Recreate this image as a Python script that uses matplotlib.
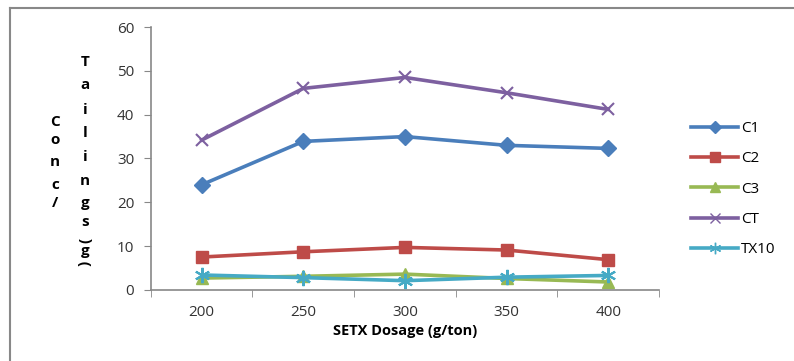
import numpy as np
import matplotlib.pyplot as plt
from matplotlib.lines import Line2D

# SETX dosage (g/ton) and tailings concentration for each stream
dosage = ['200', '250', '300', '350', '400']
c1 = [24.0, 33.9, 35.0, 33.0, 32.3]
c2 = [7.5, 8.7, 9.7, 9.1, 6.9]
c3 = [2.7, 3.1, 3.6, 2.6, 1.8]
ct = [34.2, 46.0, 48.5, 45.0, 41.2]
tx10 = [3.4, 2.8, 2.1, 2.9, 3.3]

series = [
    ('C1', c1, '#4A7EBB', 'D', 8),
    ('C2', c2, '#BE4B48', 's', 9),
    ('C3', c3, '#98B954', '^', 9),
    ('CT', ct, '#7D60A0', 'x', 9),
    ('TX10', tx10, '#46AAC5', (6, 2, 0), 11),
]

plt.rcParams['font.family'] = ['Open Sans', 'DejaVu Sans']

fig = plt.figure(figsize=(7.94, 3.61), dpi=100)
ax = fig.add_axes([0.190, 0.197, 0.640, 0.728])

x = np.arange(len(dosage))
for name, vals, col, mk, ms in series:
    ax.plot(x, vals, color=col, lw=2.6, marker=mk, markersize=ms,
            markeredgewidth=1.5 if mk in ('x', (6, 2, 0)) else 1,
            label=name)

ax.set_xlim(-0.5, len(dosage) - 0.5)
ax.set_ylim(0, 60)
ax.set_yticks(np.arange(0, 61, 10))
ax.set_xticks(x)
ax.set_xticklabels(dosage)
ax.set_xticks(np.arange(-0.5, len(dosage)), minor=True)
ax.tick_params(axis='x', which='major', length=0, pad=11)
ax.tick_params(axis='x', which='minor', length=5, color='#888888', direction='out')
ax.tick_params(axis='y', length=5, color='#888888', direction='out', pad=7)
ax.tick_params(labelsize=11, labelcolor='#333333')

for s in ('top', 'right'):
    ax.spines[s].set_visible(False)
for s in ('left', 'bottom'):
    ax.spines[s].set_color('#888888')
    ax.spines[s].set_linewidth(1.2)

ax.set_xlabel('SETX Dosage (g/ton)', fontsize=10.5, fontweight='bold', labelpad=3)

# stacked vertical y-axis title
col1 = [('C', 122), ('o', 140), ('n', 162), ('c', 185), ('/', 203)]
col2 = [('T', 62), ('a', 85), ('i', 110), ('l', 133), ('i', 157),
        ('n', 181), ('g', 203), ('s', 222), ('(', 240), ('g', 251), (')', 263)]
W, H = 794, 361
for ch, yy in col1:
    fig.text(55 / W, 1 - yy / H, ch, ha='center', va='center',
             fontsize=11, fontweight='bold')
for ch, yy in col2:
    rot = 90 if ch in '()' else 0
    fig.text(85 / W, 1 - yy / H, ch, ha='center', va='center',
             fontsize=11, fontweight='bold', rotation=rot)

handles = [Line2D([], [], color=col, lw=2.6, marker=mk, markersize=ms * 0.75,
                  markeredgewidth=1.0) for _, _, col, mk, ms in series]
fig.legend(handles, [s[0] for s in series], loc='upper left',
           bbox_to_anchor=(685 / W, 1 - 115 / H), frameon=False,
           fontsize=11, handlelength=3.1, handletextpad=0.15,
           labelspacing=1.0, numpoints=1, borderaxespad=0)

# chart-area frame
fig.add_artist(Line2D([10 / W, 10 / W], [0, 1 - 8 / H], color='#888888', lw=1.5))
fig.add_artist(Line2D([10 / W, 1], [1 - 8 / H, 1 - 8 / H], color='#888888', lw=1.5))

fig.savefig('out.png', dpi=100)
